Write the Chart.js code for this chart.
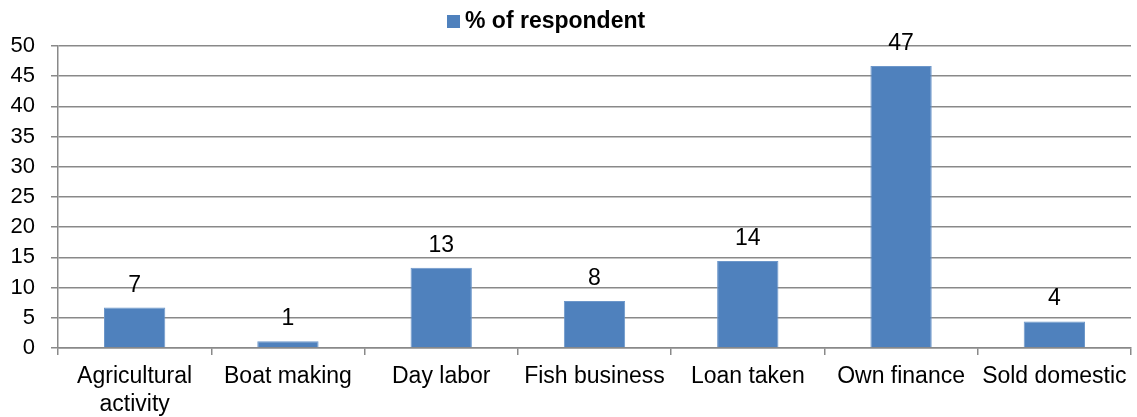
<!DOCTYPE html>
<html>
<head>
<meta charset="utf-8">
<script src="https://cdn.jsdelivr.net/npm/chart.js@4/dist/chart.umd.min.js"></script>
<style>
  html, body { margin: 0; padding: 0; background: #fff; }
  #wrap { width: 1137px; height: 417px; }
</style>
</head>
<body>
<div id="wrap"><canvas id="sources"></canvas></div>
<script>
const categories = [['Agricultural', 'activity'], 'Boat making', 'Day labor', 'Fish business', 'Loan taken', 'Own finance', 'Sold domestic'];
const respondentShare = [6.7, 1.1, 13.3, 7.8, 14.4, 46.7, 4.4];
const seriesName = '% of respondent';
const yTicks = [0, 5, 10, 15, 20, 25, 30, 35, 40, 45, 50];

const barColor = '#4f81bd';
const gridColor = '#898989';
const fontFamily = "'Liberation Sans', Arial, sans-serif";

// value labels above each bar, rounded like the original
const barLabels = {
    id: 'barLabels',
    afterDatasetsDraw(chart) {
        const ctx = chart.ctx;
        const meta = chart.getDatasetMeta(0);
        ctx.save();
        ctx.font = '23px ' + fontFamily;
        ctx.fillStyle = '#000';
        ctx.textAlign = 'center';
        ctx.textBaseline = 'alphabetic';
        meta.data.forEach((bar, i) => {
            ctx.fillText(Math.round(respondentShare[i]), bar.x, bar.y - 16);
        });
        ctx.restore();
    }
};

// small legend above the plot, like the excel one (box close to the text)
const topLegend = {
    id: 'topLegend',
    afterDraw(chart) {
        const ctx = chart.ctx;
        ctx.save();
        ctx.font = 'bold 23px ' + fontFamily;
        ctx.fillStyle = barColor;
        ctx.fillRect(447, 15, 13, 13);
        ctx.fillStyle = '#000';
        ctx.textAlign = 'left';
        ctx.textBaseline = 'middle';
        ctx.fillText(seriesName, 465, 22);
        ctx.restore();
    }
};

const ctx = document.getElementById('sources').getContext('2d');
new Chart(ctx, {
    type: 'bar',
    data: {
        labels: categories,
        datasets: [{
            label: seriesName,
            data: respondentShare,
            backgroundColor: barColor,
            borderColor: '#6d97ca',
            borderWidth: 1,
            barPercentage: 0.4,
            categoryPercentage: 1
        }]
    },
    options: {
        responsive: true,
        maintainAspectRatio: false,
        animation: false,
        devicePixelRatio: 1,
        layout: { padding: { top: 46, left: 0, right: 6, bottom: 0 } },
        plugins: {
            legend: { display: false },
            tooltip: { enabled: false }
        },
        scales: {
            x: {
                afterFit: (scale) => { scale.height = 69; },
                grid: {
                    offset: true,
                    drawOnChartArea: false,
                    color: gridColor,
                    lineWidth: 1.5,
                    tickLength: 7
                },
                border: { color: gridColor, width: 1.5 },
                ticks: {
                    color: '#000',
                    padding: 8,
                    maxRotation: 0,
                    autoSkip: false,
                    font: { family: fontFamily, size: 23, lineHeight: 1.2 }
                }
            },
            y: {
                min: 0,
                max: 50,
                afterFit: (scale) => { scale.width = 58; },
                afterBuildTicks: (scale) => { scale.ticks = yTicks.map(v => ({ value: v })); },
                grid: {
                    color: gridColor,
                    lineWidth: 1.5,
                    tickLength: 7
                },
                border: { color: gridColor, width: 1.5 },
                ticks: {
                    color: '#000',
                    padding: 16,
                    font: { family: fontFamily, size: 22 }
                }
            }
        }
    },
    plugins: [barLabels, topLegend]
});
</script>
</body>
</html>
